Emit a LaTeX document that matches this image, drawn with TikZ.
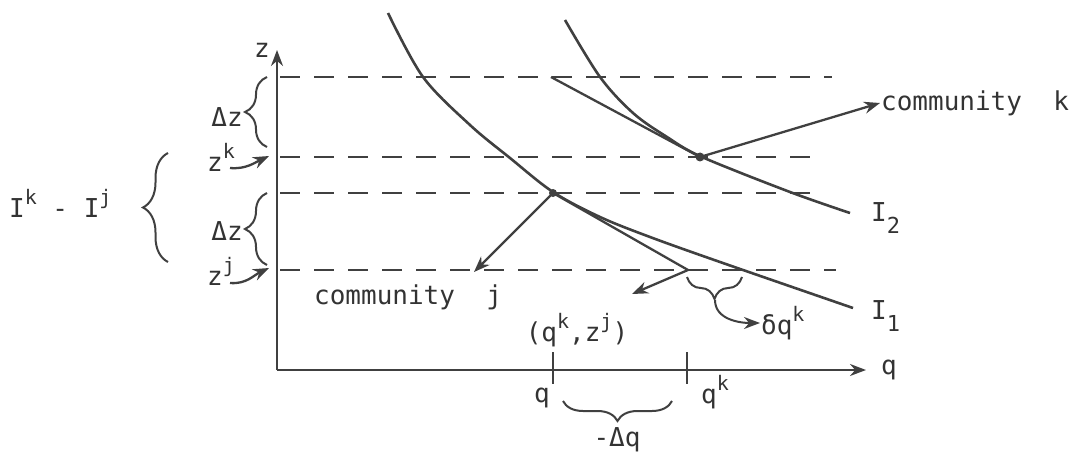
\documentclass[tikz,border=0pt]{standalone}
\usepackage{fontspec}
\setmonofont{DejaVu Sans Mono}
\usetikzlibrary{arrows.meta,decorations.pathreplacing}
\newcommand{\hi}[1]{\raisebox{0.5em}{\fontsize{20}{22}\selectfont #1}}
\newcommand{\lo}[1]{\raisebox{-0.45em}{\fontsize{22}{24}\selectfont #1}}
\begin{document}
\begin{tikzpicture}[x=1pt, y=-1pt, color=black!75, line width=2.3pt,
  every node/.style={font=\ttfamily\fontsize{26}{28}\selectfont, text=black!80, inner sep=0pt},
  lvl/.style={dash pattern=on 20pt off 14pt, line width=2.6pt},
  tip/.style={-{Stealth[length=16pt,width=12pt]}},
  curly/.style={decorate, decoration={brace, amplitude=#1}, line width=2pt}]
\useasboundingbox (0,0) rectangle (1078,457);
% axes
\coordinate (O) at (277,370);
\draw[tip] (O) -- (277,50) node[pos=1, left=6pt] (zlab) {z};
\draw[tip] (O) -- (866,370) node[pos=1, right=14pt] (qlab) {q};
% levels
\foreach \y/\x in {77/832, 157/824, 193/818, 270/836}
  \draw[lvl] (280,\y) -- (\x,\y);
% ticks on q axis
\draw (553,352) -- (553,384) coordinate (tq);
\draw (687,352) -- (687,384) coordinate (tqk);
\node (q) at (542,398) {q};
\node[anchor=west] (qk) at (700,392) {q\hi{k}};
% indifference curves
\draw[line width=2.6pt] plot[smooth, tension=0.55] coordinates {(388,13) (423,77) (470,125) (510,158) (553,192) (600,217) (650,237) (720,262) (853,308)};
\draw[line width=2.6pt] plot[smooth, tension=0.55] coordinates {(565,20) (600,77) (633,113) (667,137) (702,157) (790,192) (850,213)};
\node[anchor=west] (I2) at (870,218) {I\lo{2}};
\node[anchor=west] (I1) at (870,316) {I\lo{1}};
% budget lines
\coordinate (Pk) at (700,157);
\coordinate (Pj) at (553,193);
\coordinate (Qk) at (688,270);
\draw (551,77) -- (Pk);
\draw (Pj) -- (Qk);
\fill (Pk) circle (4.5pt);
\fill (Pj) circle (4pt);
% communities
\node[anchor=west] (ck) at (880,103) {community~~k};
\node[anchor=west] (cj) at (313,297) {community~~j};
\draw[tip] (Pk) -- (ck.west);
\draw[tip] (Pj) -- (474,272);
\node (qz) at (577,330) {(q\hi{k},z\hi{j})};
\draw[tip] (Qk) -- (632,294);
% delta q^k
\draw[curly=22pt] (742,277) -- (687,277);
\node[anchor=west] (dqk) at (760,323) {δq\hi{k}};
\draw[tip, line width=2pt] (715,300) to[out=-90, in=180] (dqk.west);
% -Delta q
\draw[curly=20pt] (672,401) -- (563,401);
\node (dq) at (617,440) {-Δq};
% left side
\draw[curly=22pt] (267,147) -- (267,77);
\draw[curly=22pt] (267,265) -- (267,193);
\node (dz1) at (227,117) {Δz};
\node (dz2) at (227,231) {Δz};
\node[anchor=west] (zk) at (206,157) {z\hi{k}};
\node[anchor=west] (zj) at (206,271) {z\hi{j}};
\draw[tip] (230,168) to[out=-5, in=205] (269,156);
\draw[tip] (230,283) to[out=-5, in=205] (269,268);
\draw[curly=25pt] (168,262) -- (168,153);
\node[anchor=west] (TT) at (8,203) {I\hi{k}~-~I\hi{j}};
\end{tikzpicture}
\end{document}
